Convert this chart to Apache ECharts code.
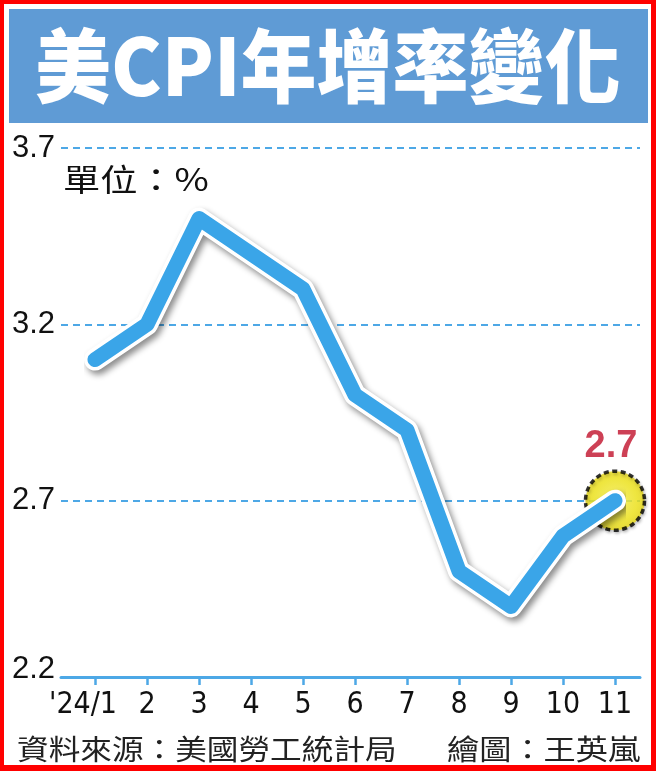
<!DOCTYPE html>
<html>
<head>
<meta charset="utf-8">
<script src="https://cdn.jsdelivr.net/npm/echarts@6/dist/echarts.min.js"></script>
<style>
html,body{margin:0;padding:0;background:#fff;}
#c{width:656px;height:771px;}
</style>
</head>
<body>
<div id="c"></div>
<script>
const months = ["'24/1", "2", "3", "4", "5", "6", "7", "8", "9", "10", "11"];
const cpi = [3.1, 3.2, 3.5, 3.4, 3.3, 3.0, 2.9, 2.5, 2.4, 2.6, 2.7];
const yTicks = [2.2, 2.7, 3.2, 3.7];
const titleText = '美CPI年增率變化';
const unitText = '單位：%';
const sourceText = '資料來源：美國勞工統計局';
const creditText = '繪圖：王英嵐';

const chart = echarts.init(document.getElementById('c'), null, {renderer: 'canvas'});
const blue = '#3AA5E8';
const gridBlue = '#4DA8E6';
const lastIdx = cpi.length - 1;
const narrow = "'Liberation Sans Narrow','DejaVu Sans Condensed',sans-serif";
const sans = "'Liberation Sans',Arial,sans-serif";
const cjk = "'Noto Sans CJK TC','Noto Sans CJK SC',sans-serif";

const option = {
  backgroundColor: '#ffffff',
  animation: false,
  grid: [
    {left: 95, right: 41, top: 148, bottom: 94},
    {left: 61, right: 16, top: 148, bottom: 94}
  ],
  xAxis: [
    {
      gridIndex: 0, type: 'category', data: months, boundaryGap: false,
      axisLine: {show: false},
      axisTick: {show: true, interval: 0, length: 8, lineStyle: {color: gridBlue, width: 2.5}},
      axisLabel: {
        interval: 0, hideOverlap: false,
        margin: 13, fontSize: 30, color: '#111', fontFamily: narrow,
        formatter: function (v, i) { return i === 0 ? '{f|' + v + '}' : v; },
        rich: {f: {fontSize: 30, color: '#111', padding: [0, 24, 0, 0], fontFamily: narrow}}
      },
      splitLine: {show: false}
    },
    {
      gridIndex: 1, type: 'value', min: 0, max: 1,
      axisLine: {show: true, onZero: false, lineStyle: {color: gridBlue, width: 3}},
      axisTick: {show: false}, axisLabel: {show: false}, splitLine: {show: false}
    }
  ],
  yAxis: [
    {gridIndex: 0, type: 'value', min: yTicks[0], max: yTicks[yTicks.length - 1], show: false},
    {
      gridIndex: 1, type: 'value', min: yTicks[0], max: yTicks[yTicks.length - 1], interval: 0.5,
      axisLine: {show: false}, axisTick: {show: false},
      axisLabel: {
        margin: 6, fontSize: 31, color: '#111', fontFamily: sans,
        formatter: function (v) {
          const s = (Math.round(v * 10) / 10).toFixed(1);
          return Math.abs(v - yTicks[0]) < 1e-6 ? '{b|' + s + '}' : s;
        },
        rich: {b: {fontSize: 31, color: '#111', padding: [0, 0, 16, 0], fontFamily: sans}}
      },
      splitLine: {show: true, lineStyle: {color: gridBlue, width: 2, type: [7, 5]}}
    }
  ],
  series: [
    {
      type: 'scatter', xAxisIndex: 0, yAxisIndex: 0, z: 1,
      data: [[lastIdx, cpi[lastIdx]]],
      symbolSize: 59,
      itemStyle: {
        color: {type: 'radial', x: 0.5, y: 0.5, r: 0.5,
          colorStops: [{offset: 0, color: '#FFF75A'}, {offset: 0.7, color: '#F7EC1C'}, {offset: 1, color: '#E9DA12'}]},
        borderColor: '#000', borderWidth: 3.5, borderType: [5, 3.5],
        shadowColor: 'rgba(0,0,0,0.25)', shadowBlur: 3, shadowOffsetX: 1, shadowOffsetY: 2},
      label: {show: true, position: 'top', distance: 4, offset: [-4, 0],
        formatter: function (p) { return p.value[1].toFixed(1); },
        color: '#C0102A', fontSize: 38, fontWeight: 'bold', fontFamily: sans},
      silent: true
    },
    {
      type: 'line', xAxisIndex: 0, yAxisIndex: 0, z: 2, data: cpi, symbol: 'none',
      lineStyle: {color: '#ffffff', width: 22, cap: 'round', join: 'round',
        shadowColor: 'rgba(0,0,0,0.45)', shadowBlur: 6, shadowOffsetX: 3, shadowOffsetY: 4},
      silent: true
    },
    {
      type: 'line', xAxisIndex: 0, yAxisIndex: 0, z: 3, data: cpi, symbol: 'none',
      lineStyle: {color: blue, width: 15, cap: 'round', join: 'round'},
      silent: true
    }
  ],
  graphic: [
    {type: 'rect', left: 0, top: 0, shape: {width: 656, height: 771}, style: {fill: '#fff'}, z: -10},
    {type: 'rect', shape: {x: 9, y: 9, width: 639, height: 114}, style: {fill: '#5F9BD5'}, z: 5},
    {type: 'text', x: 35, y: 66, scaleX: 1.0, scaleY: 1.05, z: 6,
      style: {text: titleText, fill: '#fff', fontSize: 76, fontWeight: 900,
        fontFamily: cjk, textVerticalAlign: 'middle'}},
    {type: 'text', x: 63, y: 179, scaleX: 1.2, z: 6,
      style: {text: unitText, fill: '#111', fontSize: 31, fontFamily: cjk, textVerticalAlign: 'middle'}},
    {type: 'text', x: 17, y: 749, scaleX: 1.13, z: 6,
      style: {text: sourceText, fill: '#222', fontSize: 28, fontFamily: cjk, textVerticalAlign: 'middle'}},
    {type: 'text', x: 447, y: 749, scaleX: 1.15, z: 6,
      style: {text: creditText, fill: '#222', fontSize: 28, fontFamily: cjk, textVerticalAlign: 'middle'}},
    {type: 'rect', shape: {x: 0, y: 0, width: 4, height: 771}, style: {fill: '#FF0000'}, z: 10},
    {type: 'rect', shape: {x: 0, y: 0, width: 656, height: 4}, style: {fill: '#FF0000'}, z: 10},
    {type: 'rect', shape: {x: 651, y: 0, width: 5, height: 771}, style: {fill: '#FF0000'}, z: 10},
    {type: 'rect', shape: {x: 0, y: 765, width: 656, height: 6}, style: {fill: '#FF0000'}, z: 10}
  ]
};
chart.setOption(option);
</script>
</body>
</html>
